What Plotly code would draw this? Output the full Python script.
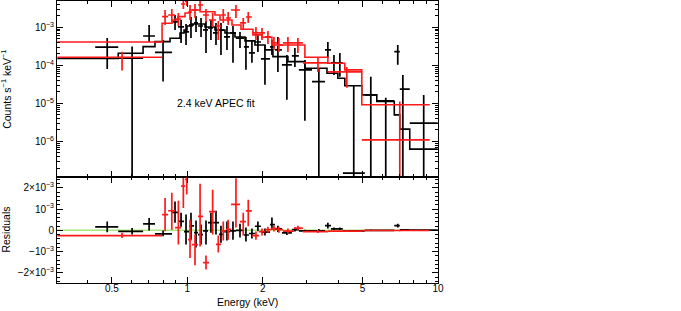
import plotly.graph_objects as go
from plotly.subplots import make_subplots

# ---------------- black data set ----------------
bk_e = [0.479, 0.602, 0.704, 0.800, 0.893, 0.944, 0.988, 1.034, 1.083, 1.134, 1.187, 1.242, 1.301, 1.362,
        1.439, 1.521, 1.622, 1.713, 1.810, 1.912, 2.040, 2.175, 2.298, 2.495, 2.686, 2.944, 3.347, 3.636,
        3.845, 4.059, 4.612, 5.394, 6.188, 6.910, 7.241, 8.770]
bk_elo = [0.429, 0.530, 0.666, 0.743, 0.869, 0.918, 0.970, 1.016, 1.063, 1.103, 1.155, 1.209, 1.266, 1.338,
          1.400, 1.480, 1.563, 1.682, 1.761, 1.861, 1.966, 2.136, 2.236, 2.384, 2.613, 2.786, 3.143, 3.541,
          3.741, 3.953, 4.172, 5.107, 5.700, 6.693, 7.039, 7.714]
bk_ehi = [0.530, 0.666, 0.743, 0.869, 0.918, 0.970, 1.016, 1.063, 1.103, 1.155, 1.209, 1.266, 1.338, 1.400,
          1.480, 1.563, 1.682, 1.761, 1.861, 1.966, 2.136, 2.236, 2.384, 2.613, 2.786, 3.143, 3.541, 3.741,
          3.953, 4.172, 5.107, 5.700, 6.693, 7.039, 7.714, 9.97]
bk_y = [3.0e-4, 1.54e-4, 5.9e-4, 2.2e-4, 1.38e-3, 1.02e-3, 7.53e-4, 1.15e-3, 1.30e-3, 1.08e-3, 8.5e-4, 9.6e-4,
        7.1e-4, 8.5e-4, 5.57e-4, 7.1e-4, 5.2e-4, 3.04e-4, 2.12e-4, 4.1e-4, 1.48e-4, 3.04e-4, 2.54e-4, 1.03e-4,
        1.77e-4, 7.6e-5, 3.74e-5, 2.54e-4, 1.16e-4, 1.16e-4, 1.48e-7, 1.67e-5, 1.17e-5, 2.29e-4, 2.37e-5, 3.03e-6]
bk_yhi = [5.2e-4, 3.1e-4, 1.15e-3, 4.65e-4, 2.1e-3, 1.55e-3, 1.22e-3, 1.86e-3, 1.98e-3, 1.75e-3, 1.46e-3, 1.55e-3,
          1.30e-3, 1.30e-3, 1.08e-3, 1.08e-3, 7.53e-4, 5.57e-4, 4.65e-4, 6.3e-4, 3.43e-4, 4.65e-4, 5.57e-4, 1.88e-4,
          2.86e-4, 1.39e-4, 8.57e-5, 4.1e-4, 1.88e-4, 2.12e-4, 2.9e-5, 4.98e-5, 1.40e-5, 3.43e-4, 5.6e-5, 1.67e-5]
bk_ylo = [8.05e-5, 0, 4.19e-4, 3.74e-5, 8.5e-4, 3.87e-4, 3.43e-4, 5.2e-4, 7.53e-4, 5.57e-4, 2.12e-4, 4.65e-4,
          3.43e-4, 1.88e-4, 2.54e-4, 1.16e-4, 2.86e-4, 7.6e-5, 1.16e-4, 2.25e-4, 3.07e-5, 1.88e-4, 6.7e-5, 1.24e-5,
          9.1e-5, 3.49e-6, 0, 1.57e-4, 5.6e-5, 4.98e-5, 0, 0, 0, 1.03e-4, 0, 0]
bk_r = [1.6e-4, -0.47e-4, 3.0e-4, -1.7e-4, 8.45e-4, 4.2e-4, -0.6e-4, 2.1e-4, -1.1e-4, -2.0e-4, -0.3e-4, 3.6e-4,
        3.6e-4, -1.9e-4, -0.6e-4, -0.3e-4, 0.0, -2.2e-4, -1.5e-4, 1.9e-4, -0.85e-4, 2.7e-4, 0.66e-4, -1.2e-4,
        0.33e-4, -0.3e-4, -0.3e-4, 2.2e-4, 0.66e-4, 0.66e-4, -0.3e-4, 0.0, 0.0, 2.2e-4, 0.2e-4, 0.05e-4]
bk_rhi = [4.2e-4, 1.13e-4, 5.8e-4, -0.14e-4, 1.36e-3, 8.3e-4, 7.4e-4, 8.3e-4, 4.6e-4, 2.7e-4, 4.6e-4, 8.3e-4,
          9.2e-4, 2.1e-4, 4.1e-4, 4.1e-4, 3.1e-4, 1.3e-4, 0.8e-4, 4.1e-4, 0.8e-4, 6.0e-4, 2.2e-4, -0.14e-4,
          1.3e-4, 0.3e-4, 0.56e-4, 3.6e-4, 1.3e-4, 1.3e-4, 0.0, 0.3e-4, 0.2e-4, 3.1e-4, 0.5e-4, 0.15e-4]
bk_rlo = [-0.94e-4, -2.0e-4, -0.14e-4, -2.8e-4, 3.5e-4, 1.7e-4, -6.7e-4, -4.4e-4, -8.1e-4, -6.7e-4, -6.7e-4, -1.1e-4,
          -2.0e-4, -5.8e-4, -4.8e-4, -4.4e-4, -3.4e-4, -5.3e-4, -3.9e-4, -0.4e-4, -2.5e-4, 0.3e-4, -0.85e-4, -2.25e-4,
          -0.6e-4, -0.85e-4, -0.6e-4, 0.8e-4, 0.1e-4, 0.1e-4, -0.6e-4, -0.3e-4, -0.2e-4, 1.3e-4, -0.1e-4, -0.05e-4]
bk_m_edges = [0.303, 0.530, 0.666, 0.743, 0.853, 0.935, 0.970, 0.997, 1.044, 1.176, 1.289, 1.413, 1.549, 1.698,
              1.861, 2.040, 2.195, 2.519, 2.944, 3.606, 3.985, 4.249, 4.966, 5.700, 6.693, 7.039, 7.714, 9.97]
bk_m = [1.52e-4, 2.08e-4, 3.1e-4, 4.19e-4, 5.15e-4, 7.1e-4, 8.5e-4, 1.08e-3, 1.22e-3, 1.02e-3, 8.5e-4, 7.1e-4,
        5.57e-4, 4.38e-4, 3.43e-4, 2.54e-4, 1.69e-4, 1.25e-4, 8.4e-5, 6.2e-5, 4.59e-5, 2.9e-5, 1.67e-5, 1.12e-5,
        5.0e-6, 2.11e-6, 6.3e-7]

# ---------------- red data set ----------------
rd_e = [0.549, 0.815, 0.867, 0.921, 0.964, 0.9945, 1.025, 1.073, 1.124, 1.187, 1.262, 1.329, 1.391, 1.455,
        1.563, 1.671, 1.750, 1.878, 1.985, 2.097, 2.216, 2.319, 2.519, 2.761, 3.319, 4.328, 7.039]
rd_elo = [0.303, 0.793, 0.838, 0.893, 0.944, 0.979, 1.006, 1.044, 1.103, 1.155, 1.220, 1.301, 1.362, 1.426,
          1.494, 1.622, 1.713, 1.810, 1.930, 2.040, 2.155, 2.278, 2.406, 2.662, 2.890, 3.636, 4.966]
rd_ehi = [0.793, 0.838, 0.893, 0.944, 0.979, 1.006, 1.044, 1.103, 1.155, 1.220, 1.301, 1.362, 1.426, 1.494,
          1.622, 1.713, 1.810, 1.930, 2.040, 2.155, 2.278, 2.406, 2.662, 2.890, 3.636, 4.966, 9.268]
rd_y = [1.63e-4, 1.90e-3, 2.1e-3, 1.65e-3, 4.08e-3, 4.75e-3, 2.52e-3, 2.84e-3, 3.85e-3, 2.1e-3, 1.55e-3, 1.08e-3,
        2.1e-3, 1.75e-3, 2.84e-3, 1.30e-3, 1.86e-3, 7.1e-4, 7.1e-4, 5.57e-4, 3.87e-4, 3.43e-4, 3.87e-4, 3.87e-4,
        1.16e-4, 6.7e-5, 1.1e-6]
rd_yhi = [2.29e-4, 2.84e-3, 3.02e-3, 2.37e-3, 5.6e-3, 7.0e-3, 3.85e-3, 4.08e-3, 5.6e-3, 3.02e-3, 2.37e-3, 1.46e-3,
          3.02e-3, 2.52e-3, 3.85e-3, 1.75e-3, 2.52e-3, 1.02e-3, 9.6e-4, 8.0e-4, 5.57e-4, 5.2e-4, 5.57e-4, 5.2e-4,
          1.66e-4, 9.1e-5, 1.12e-5]
rd_ylo = [7.3e-5, 1.15e-3, 1.38e-3, 1.08e-3, 3.02e-3, 3.62e-3, 1.55e-3, 1.75e-3, 2.84e-3, 1.38e-3, 1.02e-3, 4.65e-4,
          1.30e-3, 1.15e-3, 1.75e-3, 8.5e-4, 1.30e-3, 4.65e-4, 4.65e-4, 3.65e-4, 2.54e-4, 2.25e-4, 2.25e-4, 2.12e-4,
          6.7e-5, 2.56e-5, 0]
rd_r = [-2.5e-4, 7.4e-4, 9.2e-4, 1.3e-4, 2.08e-3, 2.4e-3, -4.4e-4, -6.7e-4, 6.6e-4, -1.52e-3, 8.8e-4, -6.6e-4,
        -0.3e-4, 0.5e-4, 1.22e-3, 4.1e-4, 9.1e-4, -2.5e-4, -0.6e-4, 0.3e-4, 0.8e-4, 0.3e-4, -0.4e-4, 1.0e-4,
        -0.6e-4, -0.4e-4, -0.1e-4]
rd_rhi = [-1.2e-4, 1.52e-3, 1.77e-3, 1.39e-3, 2.46e-3, 2.85e-3, 5.0e-4, -2.0e-4, 2.19e-3, -1.19e-3, 1.91e-3, -2.5e-4,
          4.1e-4, 5.0e-4, 2.45e-3, 8.3e-4, 1.44e-3, -0.6e-4, 0.8e-4, 1.7e-4, 2.2e-4, 1.7e-4, 0.8e-4, 2.2e-4,
          0.1e-4, 0.1e-4, 0.1e-4]
rd_rlo = [-3.6e-4, -0.5e-4, 0.3e-4, -6.7e-4, 1.05e-3, 1.68e-3, -1.3e-3, -1.65e-3, -7.6e-4, -1.85e-3, -2.0e-4, -1.05e-3,
          -4.8e-4, -4.4e-4, 1.3e-4, -2.5e-4, 1.9e-4, -4.4e-4, -2.5e-4, -1.1e-4, -0.6e-4, -1.1e-4, -1.5e-4, -0.1e-4,
          -1.3e-4, -0.8e-4, -0.4e-4]
rd_m_edges = [0.303, 0.793, 0.869, 0.918, 0.979, 1.025, 1.124, 1.289, 1.350, 1.507, 1.637, 1.827, 1.985, 2.175,
              2.944, 3.636, 4.249, 4.966, 9.268]
rd_m = [4.1e-4, 1.27e-3, 1.55e-3, 1.90e-3, 2.37e-3, 2.84e-3, 2.56e-3, 2.1e-3, 1.55e-3, 1.15e-3, 8.87e-4, 6.3e-4,
        5.47e-4, 3.43e-4, 1.63e-4, 1.13e-4, 7.6e-5, 9.2e-6]

# ---------------- axis labels ----------------
x_tickvals = [0.5, 1, 2, 5, 10]
x_ticktext = ["0.5", "1", "2", "5", "10"]
x_minor = [0.3, 0.4, 0.6, 0.7, 0.8, 0.9, 3, 4, 6, 7, 8, 9]
y_tickvals = [1e-6, 1e-5, 1e-4, 1e-3]
y_ticktext = ["10<sup>−6</sup>", "10<sup>−5</sup>", "10<sup>−4</sup>", "10<sup>−3</sup>"]
y_minor = [k * 10.0 ** n for n in range(-7, -2) for k in range(2, 10)]
r_tickvals = [-2e-3, -1e-3, 0, 1e-3, 2e-3]
r_ticktext = ["−2×10<sup>−3</sup>", "−10<sup>−3</sup>", "0", "10<sup>−3</sup>", "2×10<sup>−3</sup>"]

BLACK = "#000000"
RED = "#ff1a1a"
GREEN = "#a6e878"
FONT = "Liberation Sans, Arial, Helvetica, sans-serif"

fig = make_subplots(rows=2, cols=1, shared_xaxes=True, vertical_spacing=0,
                    row_heights=[0.6248, 0.3752])


def cross(x, xlo, xhi, y, yhi, ylo, color, row, log=False):
    ex_p = [b - a for a, b in zip(x, xhi)]
    ex_m = [a - b for a, b in zip(x, xlo)]
    ey_p = [h - v for v, h in zip(y, yhi)]
    if log:
        ey_m = [v - max(l, 1e-12) for v, l in zip(y, ylo)]
    else:
        ey_m = [v - l for v, l in zip(y, ylo)]
    fig.add_trace(go.Scatter(
        x=x, y=y, mode="markers",
        marker=dict(size=1, color=color),
        error_x=dict(type="data", symmetric=False, array=ex_p, arrayminus=ex_m,
                     color=color, thickness=1.7, width=0),
        error_y=dict(type="data", symmetric=False, array=ey_p, arrayminus=ey_m,
                     color=color, thickness=1.7, width=0),
        showlegend=False, hoverinfo="skip"), row=row, col=1)


def step(edges, vals, color, row):
    fig.add_trace(go.Scatter(
        x=edges, y=list(vals) + [vals[-1]], mode="lines",
        line=dict(color=color, width=1.6, shape="hv"),
        showlegend=False, hoverinfo="skip"), row=row, col=1)


# top panel
step(bk_m_edges, bk_m, BLACK, 1)
cross(bk_e, bk_elo, bk_ehi, bk_y, bk_yhi, bk_ylo, BLACK, 1, log=True)
step(rd_m_edges, rd_m, RED, 1)
cross(rd_e, rd_elo, rd_ehi, rd_y, rd_yhi, rd_ylo, RED, 1, log=True)

# residual panel
fig.add_trace(go.Scatter(x=[0.3, 10], y=[0, 0], mode="lines",
                         line=dict(color=GREEN, width=1.6),
                         showlegend=False, hoverinfo="skip"), row=2, col=1)
cross(bk_e, bk_elo, bk_ehi, bk_r, bk_rhi, bk_rlo, BLACK, 2)
cross(rd_e, rd_elo, rd_ehi, rd_r, rd_rhi, rd_rlo, RED, 2)

tickfont = dict(family=FONT, size=10, color="black")
common_x = dict(type="log", range=[-0.52, 1.0], showline=True, linecolor="black", linewidth=1,
                mirror="ticks", ticks="inside", ticklen=6, tickwidth=1, tickcolor="black",
                tickmode="array", tickvals=x_tickvals, ticktext=x_ticktext,
                minor=dict(tickmode="array", tickvals=x_minor, ticks="inside", ticklen=3,
                           tickcolor="black", tickwidth=1, showgrid=False),
                showgrid=False, zeroline=False, tickfont=tickfont, automargin=False)
fig.update_xaxes(**common_x)
fig.update_xaxes(showticklabels=False, row=1, col=1)
fig.update_xaxes(showticklabels=True, ticklabelstandoff=-4, row=2, col=1)

fig.update_yaxes(type="log", range=[-6.939, -2.31], showline=True, linecolor="black", linewidth=1,
                 mirror="ticks", ticks="inside", ticklen=6, tickwidth=1, tickcolor="black",
                 tickmode="array", tickvals=y_tickvals, ticktext=y_ticktext,
                 minor=dict(tickmode="array", tickvals=y_minor, ticks="inside", ticklen=3,
                            tickcolor="black", tickwidth=1, showgrid=False),
                 showgrid=False, zeroline=False, tickfont=tickfont, automargin=False, row=1, col=1)
fig.update_yaxes(range=[-2.48e-3, 2.5e-3], showline=True, linecolor="black", linewidth=1,
                 mirror="ticks", ticks="inside", ticklen=6, tickwidth=1, tickcolor="black",
                 tickmode="array", tickvals=r_tickvals, ticktext=r_ticktext,
                 minor=dict(dtick=2e-4, ticks="inside", ticklen=3, tickcolor="black",
                            tickwidth=1, showgrid=False),
                 showgrid=False, zeroline=False, tickfont=tickfont, automargin=False, row=2, col=1)

W, H = 681, 311
L, R, T, B = 57, 243, 1, 27.5
pw, ph = W - L - R, H - T - B


def px2paper(px, py):
    return (px - L) / pw, (H - B - py) / ph


annots = []
for text, (px, py), ang in [("Counts s<sup>−1</sup> keV<sup>−1</sup>", (6, 89), -90),
                            ("Residuals", (6, 230), -90),
                            ("Energy (keV)", (247.5, 302.5), 0),
                            ("2.4 keV APEC fit", (216, 103), 0)]:
    ax_, ay_ = px2paper(px, py)
    annots.append(dict(text=text, x=ax_, y=ay_, xref="paper", yref="paper",
                       xanchor="center", yanchor="middle", showarrow=False, textangle=ang,
                       font=dict(family=FONT, size=10.5, color="black")))

fig.update_layout(width=W, height=H, margin=dict(l=L, r=R, t=T, b=B, pad=0, autoexpand=False),
                  plot_bgcolor="white", paper_bgcolor="white",
                  annotations=annots, showlegend=False)

fig.write_html("out.html", config={"displayModeBar": False},
               post_script="document.body.style.margin='0';document.body.style.padding='0';"
                           "document.body.style.overflow='hidden';")
